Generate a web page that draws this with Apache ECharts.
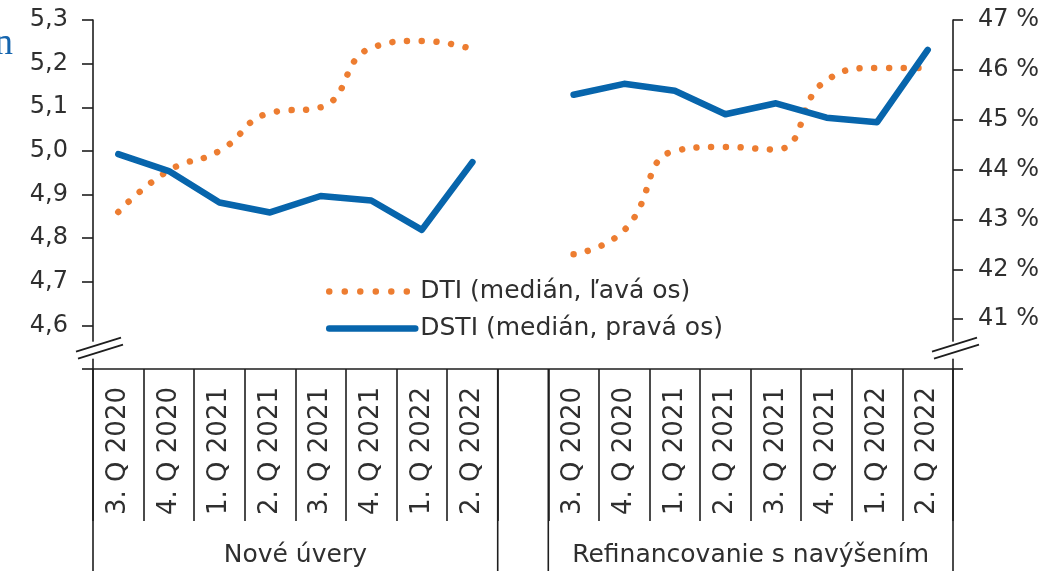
<!DOCTYPE html>
<html>
<head>
<meta charset="utf-8">
<script src="https://cdn.jsdelivr.net/npm/echarts@6/dist/echarts.min.js"></script>
<style>
  html, body { margin: 0; padding: 0; background: #fff; }
  #chart { width: 1050px; height: 571px; }
</style>
</head>
<body>
<div id="chart"></div>
<script>
// Quarter labels (same for both groups)
const quarters = ['3. Q 2020', '4. Q 2020', '1. Q 2021', '2. Q 2021', '3. Q 2021', '4. Q 2021', '1. Q 2022', '2. Q 2022'];
const groupNames = ['Nové úvery', 'Refinancovanie s navýšením'];
const seriesNames = ['DTI (medián, ľavá os)', 'DSTI (medián, pravá os)'];

// DTI median (left axis)
const dtiNew = [4.86, 4.955, 5.00, 5.087, 5.10, 5.236, 5.252, 5.233];
const dtiRefi = [4.763, 4.818, 5.00, 5.009, 5.003, 5.162, 5.19, 5.19];
// DSTI median in % (right axis)
const dstiNew = [44.31, 43.97, 43.34, 43.14, 43.47, 43.38, 42.79, 44.15];
const dstiRefi = [45.5, 45.72, 45.58, 45.11, 45.33, 45.04, 44.95, 46.4];

// Left axis tick labels, right axis tick labels
const leftTicks = [4.6, 4.7, 4.8, 4.9, 5.0, 5.1, 5.2, 5.3];
const rightTicks = [41, 42, 43, 44, 45, 46, 47];

// One empty slot separates the two groups on the category axis
const categories = quarters.concat([''], quarters);
const dtiData = dtiNew.concat([null], dtiRefi);
const dstiData = dstiNew.concat([null], dstiRefi);

const INK = '#1e1e1e';
const TEXT = '#2f2f2f';
const ORANGE = '#ED7D31';
const BLUE = '#0765AC';
const FONT = '"DejaVu Sans", Verdana, sans-serif';
const DOTS = [0.01, 14.7];

const chart = echarts.init(document.getElementById('chart'), null, { renderer: 'canvas' });

const option = {
  backgroundColor: '#ffffff',
  animation: false,
  textStyle: { fontFamily: FONT, color: TEXT },
  grid: { left: 93, right: 97, top: 20, bottom: 202, containLabel: false },
  legend: {
    orient: 'vertical',
    left: 321,
    top: 274,
    itemWidth: 86,
    itemHeight: 14,
    itemGap: 12,
    textStyle: { fontFamily: FONT, fontSize: 25, color: TEXT, lineHeight: 25 },
    data: [
      { name: seriesNames[0], itemStyle: { opacity: 0 },
        lineStyle: { width: 6.5, type: [0.01, 15.5], cap: 'round', color: ORANGE } },
      { name: seriesNames[1], itemStyle: { opacity: 0 },
        lineStyle: { width: 6.5, type: 'solid', cap: 'round', color: BLUE } }
    ]
  },
  xAxis: {
    type: 'category',
    data: categories,
    boundaryGap: true,
    axisLine: { show: true, lineStyle: { color: INK, width: 1.6 } },
    axisTick: { show: true, interval: 0, length: 152, lineStyle: { color: INK, width: 1.6 } },
    axisLabel: {
      interval: 0, rotate: 90, margin: 18,
      fontFamily: FONT, fontSize: 26, color: TEXT
    },
    splitLine: { show: false }
  },
  yAxis: [
    {
      type: 'value',
      min: 4.5, max: 5.3, interval: 0.1,
      axisLine: { show: true, lineStyle: { color: INK, width: 1.6 } },
      axisTick: { show: true, length: 11, lineStyle: { color: INK, width: 1.6 } },
      axisLabel: {
        margin: 25, fontFamily: FONT, fontSize: 24, color: TEXT,
        formatter: function (v) {
          const hit = leftTicks.find(t => Math.abs(t - v) < 1e-6);
          return hit === undefined ? '' : hit.toFixed(1).replace('.', ',');
        }
      },
      splitLine: { show: false }
    },
    {
      type: 'value',
      position: 'right',
      min: 40, max: 47, interval: 1,
      axisLine: { show: true, lineStyle: { color: INK, width: 1.6 } },
      axisTick: { show: true, length: 10, lineStyle: { color: INK, width: 1.6 } },
      axisLabel: {
        margin: 25, fontFamily: FONT, fontSize: 24, color: TEXT,
        formatter: function (v) {
          const hit = rightTicks.find(t => Math.abs(t - v) < 1e-6);
          return hit === undefined ? '' : hit + ' %';
        }
      },
      splitLine: { show: false }
    }
  ],
  series: [
    {
      name: seriesNames[0],
      type: 'line',
      yAxisIndex: 0,
      data: dtiData,
      smooth: 0.5,
      connectNulls: false,
      symbol: 'none',
      lineStyle: { color: ORANGE, width: 6.5, type: DOTS, cap: 'round' },
      itemStyle: { color: ORANGE },
      z: 2
    },
    {
      name: seriesNames[1],
      type: 'line',
      yAxisIndex: 1,
      data: dstiData,
      connectNulls: false,
      symbol: 'none',
      lineStyle: { color: BLUE, width: 6.5, cap: 'round', join: 'round' },
      itemStyle: { color: BLUE },
      z: 3
    }
  ]
};

chart.setOption(option);

// Group dividers, group titles, axis break marks and the clipped heading letter
function decorate() {
  const c0 = chart.convertToPixel({ xAxisIndex: 0 }, 0);
  const c1 = chart.convertToPixel({ xAxisIndex: 0 }, 1);
  const band = c1 - c0;
  const edge = k => c0 - band / 2 + k * band;
  const baseY = chart.convertToPixel({ yAxisIndex: 0 }, 4.5);
  const firstTickY = chart.convertToPixel({ yAxisIndex: 0 }, 4.6);
  const leftX = edge(0);
  const rightX = edge(categories.length);
  const bottom = 571;

  const g = [];
  // full-height dividers around each group
  [0, quarters.length, quarters.length + 1, categories.length].forEach(k => {
    g.push({
      type: 'line', silent: true,
      shape: { x1: edge(k), y1: baseY, x2: edge(k), y2: bottom + 2 },
      style: { stroke: INK, lineWidth: 1.6 }
    });
  });
  // group titles centred under each block of quarters
  const groupCenters = [
    (edge(0) + edge(quarters.length)) / 2,
    (edge(quarters.length + 1) + edge(categories.length)) / 2
  ];
  groupNames.forEach((name, i) => {
    g.push({
      type: 'text', silent: true,
      x: groupCenters[i], y: 555,
      style: {
        text: name, fill: TEXT, font: '25px ' + FONT,
        textAlign: 'center', textVerticalAlign: 'middle'
      }
    });
  });
  // axis breaks just above the category axis
  const mid = baseY - (baseY - firstTickY) * 0.42;
  [[leftX, 0], [rightX, -4]].forEach(([ax, shift]) => {
    g.push({
      type: 'rect', silent: true, z: 100,
      shape: { x: ax - 4, y: mid - 9, width: 8, height: 17 },
      style: { fill: '#ffffff' }
    });
    g.push({
      type: 'line', silent: true, z: 101,
      shape: { x1: ax - 17 + shift, y1: mid + 1, x2: ax + 28 + shift, y2: mid - 13 },
      style: { stroke: INK, lineWidth: 1.8 }
    });
    g.push({
      type: 'line', silent: true, z: 101,
      shape: { x1: ax - 15 + shift, y1: mid + 8, x2: ax + 30 + shift, y2: mid - 6 },
      style: { stroke: INK, lineWidth: 1.8 }
    });
  });
  // tail of the heading that runs off the left edge
  g.push({
    type: 'text', silent: true,
    x: 13, y: 63,
    style: {
      text: 'n', fill: '#1565AE', font: '37px "Liberation Serif", "DejaVu Serif", serif',
      textAlign: 'right', textVerticalAlign: 'bottom'
    }
  });

  chart.setOption({ graphic: g });
}

decorate();
</script>
</body>
</html>
